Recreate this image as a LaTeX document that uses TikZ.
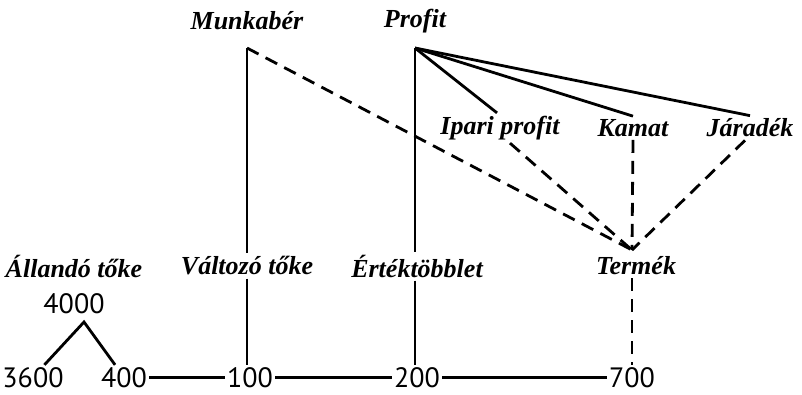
\documentclass[tikz,border=0pt]{standalone}
\usepackage{fontspec}
\setmainfont{Liberation Serif}
\newfontfamily\numfont{PT Sans}
\usetikzlibrary{positioning}

\begin{document}
\begin{tikzpicture}[
    x=1pt, y=-1pt,
    lbl/.style={font=\fontsize{26}{29}\selectfont\bfseries\itshape, inner sep=3pt},
    num/.style={font=\fontsize{28}{31}\selectfont\numfont, inner sep=2pt, anchor=base},
    sline/.style={line width=2.8pt},
    dline/.style={line width=2.8pt, dash pattern=on 13pt off 8pt},
]
    \useasboundingbox (0,0) rectangle (802,394);
    %% upper labels
    \node[lbl] (munk) at (247,21) {Munkabér};
    \node[lbl] (prof) at (415,21) {Profit};
    \node[lbl] (ipari) at (500,128) {Ipari profit};
    \node[lbl] (kamat) at (633,128) {Kamat};
    \node[lbl] (jarad) at (750,128) {Járadék};
    \coordinate (mv) at (247,48);
    \coordinate (pv) at (415,48);
    %% middle labels
    \node[lbl] (alla) at (74,266) {Állandó tőke};
    \node[lbl] (valt) at (247,266) {Változó tőke};
    \node[lbl] (ertek) at (417,266) {Értéktöbblet};
    \node[lbl] (termek) at (636,266) {Termék};
    %% numbers
    \node[num] (n4000) at (74,313) {4000};
    \node[num] (n3600) at (33,387) {3600};
    \node[num] (n400) at (124,387) {400};
    \node[num] (n100) at (250,387) {100};
    \node[num] (n200) at (417,387) {200};
    \node[num] (n700) at (632,387) {700};
    \coordinate (apex) at (84,322);
    \coordinate (tk) at (632,250);
    %% solid lines
    \draw[sline] (mv) -- (mv |- valt.north);
    \draw[sline] (mv |- valt.south) -- (mv |- n100.north);
    \draw[sline] (pv) -- (pv |- ertek.north);
    \draw[sline] (pv |- ertek.south) -- (pv |- n200.north);
    \draw[sline] (pv) -- ([xshift=-3pt]ipari.north);
    \draw[sline] (pv) -- (kamat.north);
    \draw[sline] (pv) -- (jarad.north);
    \draw[sline] (n3600) -- (apex) -- (n400);
    \draw[sline] (n400) -- (n100) -- (n200) -- (n700);
    %% dashed lines into Termék
    \draw[dline] (mv) -- (tk);
    \draw[dline] ([xshift=10pt]ipari.south) -- (tk);
    \draw[dline] (kamat.south) -- (tk);
    \draw[dline] ([xshift=-5pt]jarad.south) -- (tk);
    \draw[dline] ([xshift=-4pt]termek.south) -- ([xshift=-4pt]termek.south |- n700.north);
\end{tikzpicture}
\end{document}
